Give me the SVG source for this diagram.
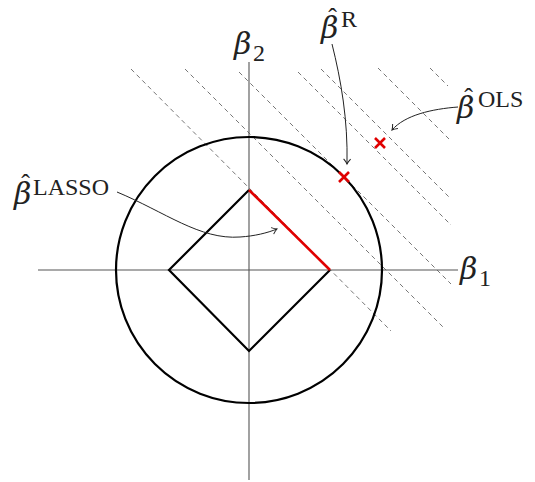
<svg xmlns="http://www.w3.org/2000/svg" width="535" height="482" viewBox="0 0 535 482">
<defs>
<style>
.axis{stroke:#555;stroke-width:1.1;fill:none}
.dash{stroke:#777;stroke-width:1;stroke-dasharray:4.5 3.5;fill:none}
.blk{stroke:#000;stroke-width:2.2;fill:none}
.red{stroke:#e00000;stroke-width:2.6;fill:none}
.conn{stroke:#222;stroke-width:1;fill:none}
.g{font-family:"DejaVu Serif","Liberation Serif",serif;font-style:italic;font-size:30px;fill:#222}
.hat{font-family:"Liberation Serif","DejaVu Serif",serif;font-style:normal;font-size:26px}
.sup{font-family:"Liberation Serif","DejaVu Serif",serif;font-size:24px;fill:#222}
</style>
<marker id="arr" markerWidth="10" markerHeight="10" refX="0" refY="0" viewBox="-6 -5 8 10" orient="auto" markerUnits="userSpaceOnUse">
<path d="M-5,-3.5 Q-2,-0.8 0,0 Q-2,0.8 -5,3.5" stroke="#222" stroke-width="1" fill="none"/>
</marker>
</defs>
<rect width="535" height="482" fill="#fff"/>
<g id="contours">
<line class="dash" x1="131" y1="69" x2="391" y2="331"/>
<line class="dash" x1="185" y1="69" x2="445" y2="329"/>
<line class="dash" x1="239" y1="72" x2="451" y2="284"/>
<line class="dash" x1="298" y1="72" x2="451" y2="225"/>
<line class="dash" x1="321" y1="69" x2="451" y2="199"/>
<line class="dash" x1="378" y1="68" x2="449" y2="139"/>
<line class="dash" x1="430" y1="68" x2="448" y2="86"/>
</g>
<g id="axes">
<line class="axis" x1="38" y1="270" x2="458" y2="270"/>
<line class="axis" x1="249" y1="62" x2="249" y2="480"/>
</g>
<g id="ridge-circle"><circle class="blk" cx="249" cy="270" r="133"/></g>
<g id="lasso-diamond"><path class="blk" d="M249,190 L169,270 L249,351 L330,270"/></g>
<g id="lasso-edge"><line class="red" x1="249" y1="190" x2="330" y2="270"/></g>
<g id="ridge-point"><path class="red" d="M339,172 L349,182 M349,172 L339,182"/></g>
<g id="ols-point"><path class="red" d="M375,138 L385,148 M385,138 L375,148"/></g>
<g id="label-b2"><text class="g" x="234" y="54">β</text><text class="sup" x="253" y="61">2</text></g>
<g id="label-b1"><text class="g" x="460" y="279">β</text><text class="sup" x="479" y="286">1</text></g>
<g id="label-ridge"><text class="g" x="321" y="38">β<tspan class="hat" dx="-10" dy="-12">ˆ</tspan></text><text class="sup" x="341" y="27">R</text></g>
<g id="label-ols"><text class="g" x="457" y="118">β<tspan class="hat" dx="-10" dy="-12">ˆ</tspan></text><text class="sup" x="478" y="107">OLS</text></g>
<g id="label-lasso"><text class="g" x="14" y="204">β<tspan class="hat" dx="-10" dy="-12">ˆ</tspan></text><text class="sup" x="33" y="195">LASSO</text></g>
<g id="connectors">
<path class="conn" marker-end="url(#arr)" d="M332,44 C341,80 348,120 347,164"/>
<path class="conn" marker-end="url(#arr)" d="M458,107 C432,109 405,115 392,130"/>
<path class="conn" marker-end="url(#arr)" d="M117,192 C165,212 200,240 240,237 C255,236 267,233 277,229"/>
</g>
</svg>
